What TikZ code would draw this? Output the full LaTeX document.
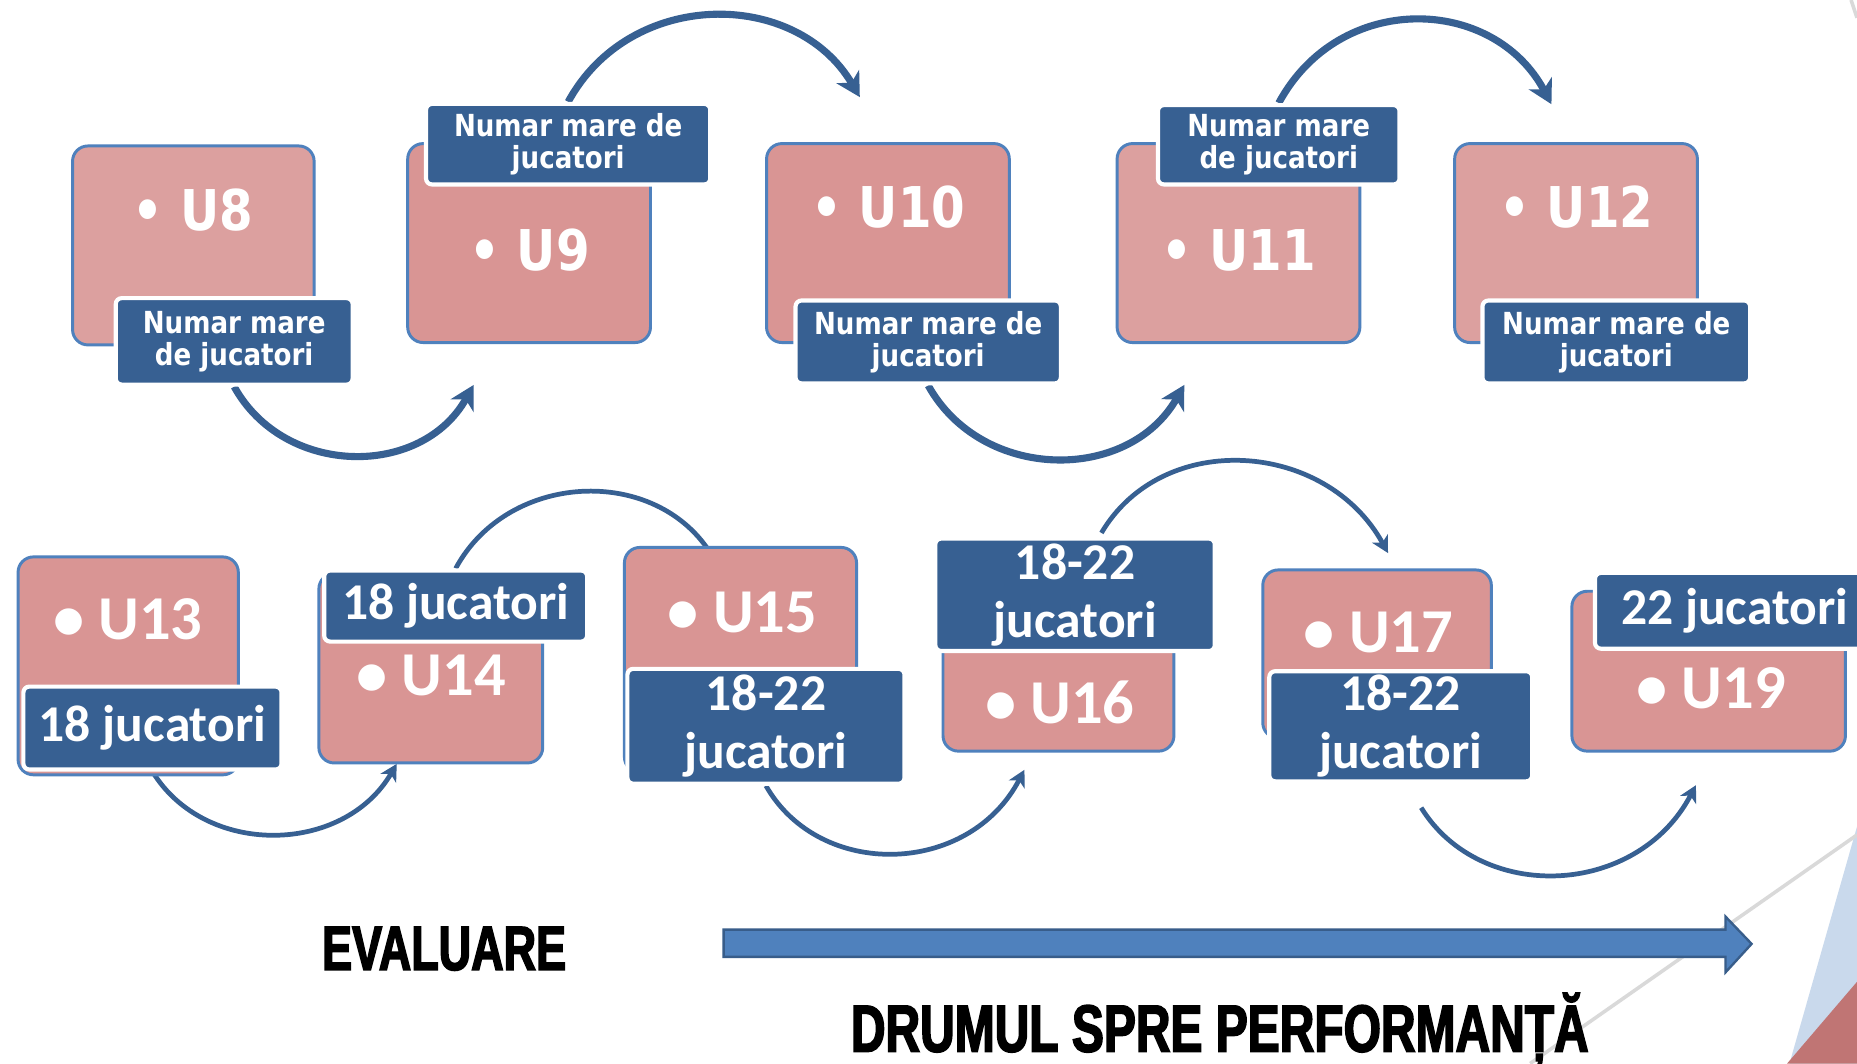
\documentclass[tikz,border=0pt]{standalone}
\usepackage{fontspec}
\usetikzlibrary{arrows.meta}
\newfontfamily\topfont{DejaVu Sans}[FakeStretch=0.86]
\newfontfamily\botfont{Carlito}
\newfontfamily\headfont{Liberation Sans}[FakeStretch=0.72,BoldFeatures={FakeBold=2.4},UprightFeatures={FakeBold=2.4}]
\definecolor{pinkA}{HTML}{DCA09F}
\definecolor{pinkB}{HTML}{D99594}
\definecolor{navy}{HTML}{376092}
\definecolor{bord}{HTML}{4F81BD}
\definecolor{arrowfill}{HTML}{4F81BD}
\definecolor{arrowline}{HTML}{385D8A}
\definecolor{lblue}{HTML}{C9D9EC}
\definecolor{dred}{HTML}{C07574}
\definecolor{lgray}{HTML}{D9D9D9}
\pgfdeclarelayer{deco}
\pgfdeclarelayer{bg}
\pgfsetlayers{deco,bg,main}
\tikzset{
 pbox/.style={draw=bord, line width=0.25mm, rounded corners=1.3mm, anchor=north west, inner sep=0pt},
 lbl/.style={draw=white, line width=0.35mm, fill=navy, rounded corners=0.5mm, anchor=north west, inner sep=0pt, text=white, align=center},
 toplbl/.style={lbl, font=\topfont\bfseries\fontsize{7.3}{7.7}\selectfont},
 botlbl/.style={lbl, font=\botfont\bfseries\fontsize{12.4}{14}\selectfont},
 toptxt/.style={anchor=base, text=white, inner sep=0pt, font=\topfont\bfseries\fontsize{13.5}{14}\selectfont},
 bottxt/.style={anchor=base, text=white, inner sep=0pt, font=\botfont\bfseries\fontsize{15}{16}\selectfont},
 bigarc/.style={draw=navy, line width=0.6mm, -{Stealth[length=2mm,width=2.2mm,inset=0.6mm]}},
 smallline/.style={draw=navy, line width=0.4mm},
 smallarc/.style={smallline, -{Stealth[length=1.4mm,width=1.5mm,inset=0.4mm]}},
 headtxt/.style={anchor=base, inner sep=0pt, text=black},
}
\begin{document}
\begin{tikzpicture}[x=0.1mm, y=-0.1mm]
\useasboundingbox (0,0) rectangle (1568,898);
% background decoration
\begin{pgfonlayer}{deco}
\fill[white] (0,0) rectangle (1568,898);
\fill[lblue] (1568,698) -- (1568,898) -- (1511,898) -- cycle;
\fill[dred] (1568,829) -- (1568,898) -- (1509,898) -- cycle;
\draw[lgray, line width=0.3mm] (1568,705) -- (1292,898);
\draw[lgray, line width=0.3mm] (1563,0) -- (1568,15);
\end{pgfonlayer}

% top row boxes
\node[pbox, fill=pinkA, minimum width=20.4mm, minimum height=16.8mm] (b8) at (60,122) {};
\node[pbox, fill=pinkB, minimum width=20.5mm, minimum height=16.8mm] (b9) at (343,120) {};
\node[pbox, fill=pinkB, minimum width=20.5mm, minimum height=16.8mm] (b10) at (646,120) {};
\node[pbox, fill=pinkA, minimum width=20.5mm, minimum height=16.8mm] (b11) at (942,120) {};
\node[pbox, fill=pinkA, minimum width=20.5mm, minimum height=16.8mm] (b12) at (1227,120) {};
\node[toptxt] (t8) at (163,195) {• U8};
\node[toptxt] (t9) at (447,228) {• U9};
\node[toptxt] (t10) at (750,192) {• U10};
\node[toptxt] (t11) at (1046,228) {• U11};
\node[toptxt] (t12) at (1331,192) {• U12};
\node[toplbl, minimum width=20mm, minimum height=7.3mm] (l8) at (96,250) {Numar mare\\de jucatori};
\node[toplbl, minimum width=24mm, minimum height=6.8mm] (l9) at (358,86) {Numar mare de\\jucatori};
\node[toplbl, minimum width=22.4mm, minimum height=7mm] (l10) at (670,252) {Numar mare de\\jucatori};
\node[toplbl, minimum width=20.4mm, minimum height=6.7mm] (l11) at (976,87) {Numar mare\\de jucatori};
\node[toplbl, minimum width=22.6mm, minimum height=7mm] (l12) at (1250,252) {Numar mare de\\jucatori};

% bottom row boxes
\node[pbox, fill=pinkB, minimum width=18.6mm, minimum height=18.4mm] (b13) at (14,469) {};
\node[pbox, fill=pinkB, minimum width=18.9mm, minimum height=16mm] (b14) at (268,483) {};
\node[pbox, fill=pinkB, minimum width=19.6mm, minimum height=19mm] (b15) at (526,461) {};
\node[pbox, fill=pinkB, minimum width=19.5mm, minimum height=16.3mm] (b16) at (795,470) {};
\node[pbox, fill=pinkB, minimum width=19.3mm, minimum height=14.2mm] (b17) at (1065,480) {};
\node[pbox, fill=pinkB, minimum width=23.1mm, minimum height=13.5mm] (b19) at (1326,498) {};
\node[bottxt] (t13) at (108,540) {• U13};
\node[bottxt] (t14) at (364,587) {• U14};
\node[bottxt] (t15) at (627,534) {• U15};
\node[bottxt] (t16) at (895,611) {• U16};
\node[bottxt] (t17) at (1164,551) {• U17};
\node[bottxt] (t19) at (1445,598) {• U19};
\node[botlbl, minimum width=21.8mm, minimum height=7mm] (l13) at (18,578) {18 jucatori};
\node[botlbl, minimum width=22.2mm, minimum height=6mm] (l14) at (272,480) {18 jucatori};
\node[botlbl, minimum width=23.4mm, minimum height=9.7mm] (l15) at (528,563) {18-22\\jucatori};
\node[botlbl, minimum width=23.6mm, minimum height=9.5mm] (l16) at (788,453) {18-22\\jucatori};
\node[botlbl, minimum width=22.2mm, minimum height=9.3mm] (l17) at (1070,565) {18-22\\jucatori};
\node[botlbl, minimum width=23.6mm, minimum height=6.4mm] (l19) at (1345,482) {22 jucatori};

% connectors
\coordinate (e9) at (400,325);
\coordinate (e10) at (726,82);
\coordinate (e11) at (1000,325);
\coordinate (e12) at (1310,88);
\coordinate (e14) at (335,645);
\coordinate (e15) at (604,474);
\coordinate (e16) at (865,650);
\coordinate (s16) at (930,450);
\coordinate (e17) at (1172,467);
\coordinate (s17) at (1200,682);
\coordinate (e19) at (1432,663);
\begin{pgfonlayer}{bg}
\draw[bigarc] (l8.south) .. controls (240,403) and (356,404) .. (e9);
\draw[bigarc] (l9.north) .. controls (532,-10) and (672,-10) .. (e10);
\draw[bigarc] (l10.south) .. controls (829,407) and (953,408) .. (e11);
\draw[bigarc] (l11.north) .. controls (1131,-8) and (1261,-4) .. (e12);
\draw[smallarc] (l13.south) .. controls (173,724) and (290,722) .. (e14);
\draw[smallline] (l14.north) .. controls (430,396) and (560,392) .. (e15);
\draw[smallarc] (l15.south) .. controls (692,743) and (818,740) .. (e16);
\draw[smallarc] (s16) .. controls (982,362) and (1120,372) .. (e17);
\draw[smallarc] (s17) .. controls (1250,763) and (1382,758) .. (e19);
\end{pgfonlayer}

% big arrow
\draw[draw=arrowline, fill=arrowfill, line width=0.2mm] (611,785) -- (1457,785) -- (1457,774) -- (1479,797) -- (1457,821) -- (1457,808) -- (611,808) -- cycle;

\node[headtxt, font=\headfont\bfseries\fontsize{15}{16}\selectfont] (ev) at (375,819) {EVALUARE};
\node[headtxt, font=\headfont\bfseries\fontsize{16}{17}\selectfont] (dr) at (1030,888) {DRUMUL SPRE PERFORMANȚĂ};
\end{tikzpicture}
\end{document}
